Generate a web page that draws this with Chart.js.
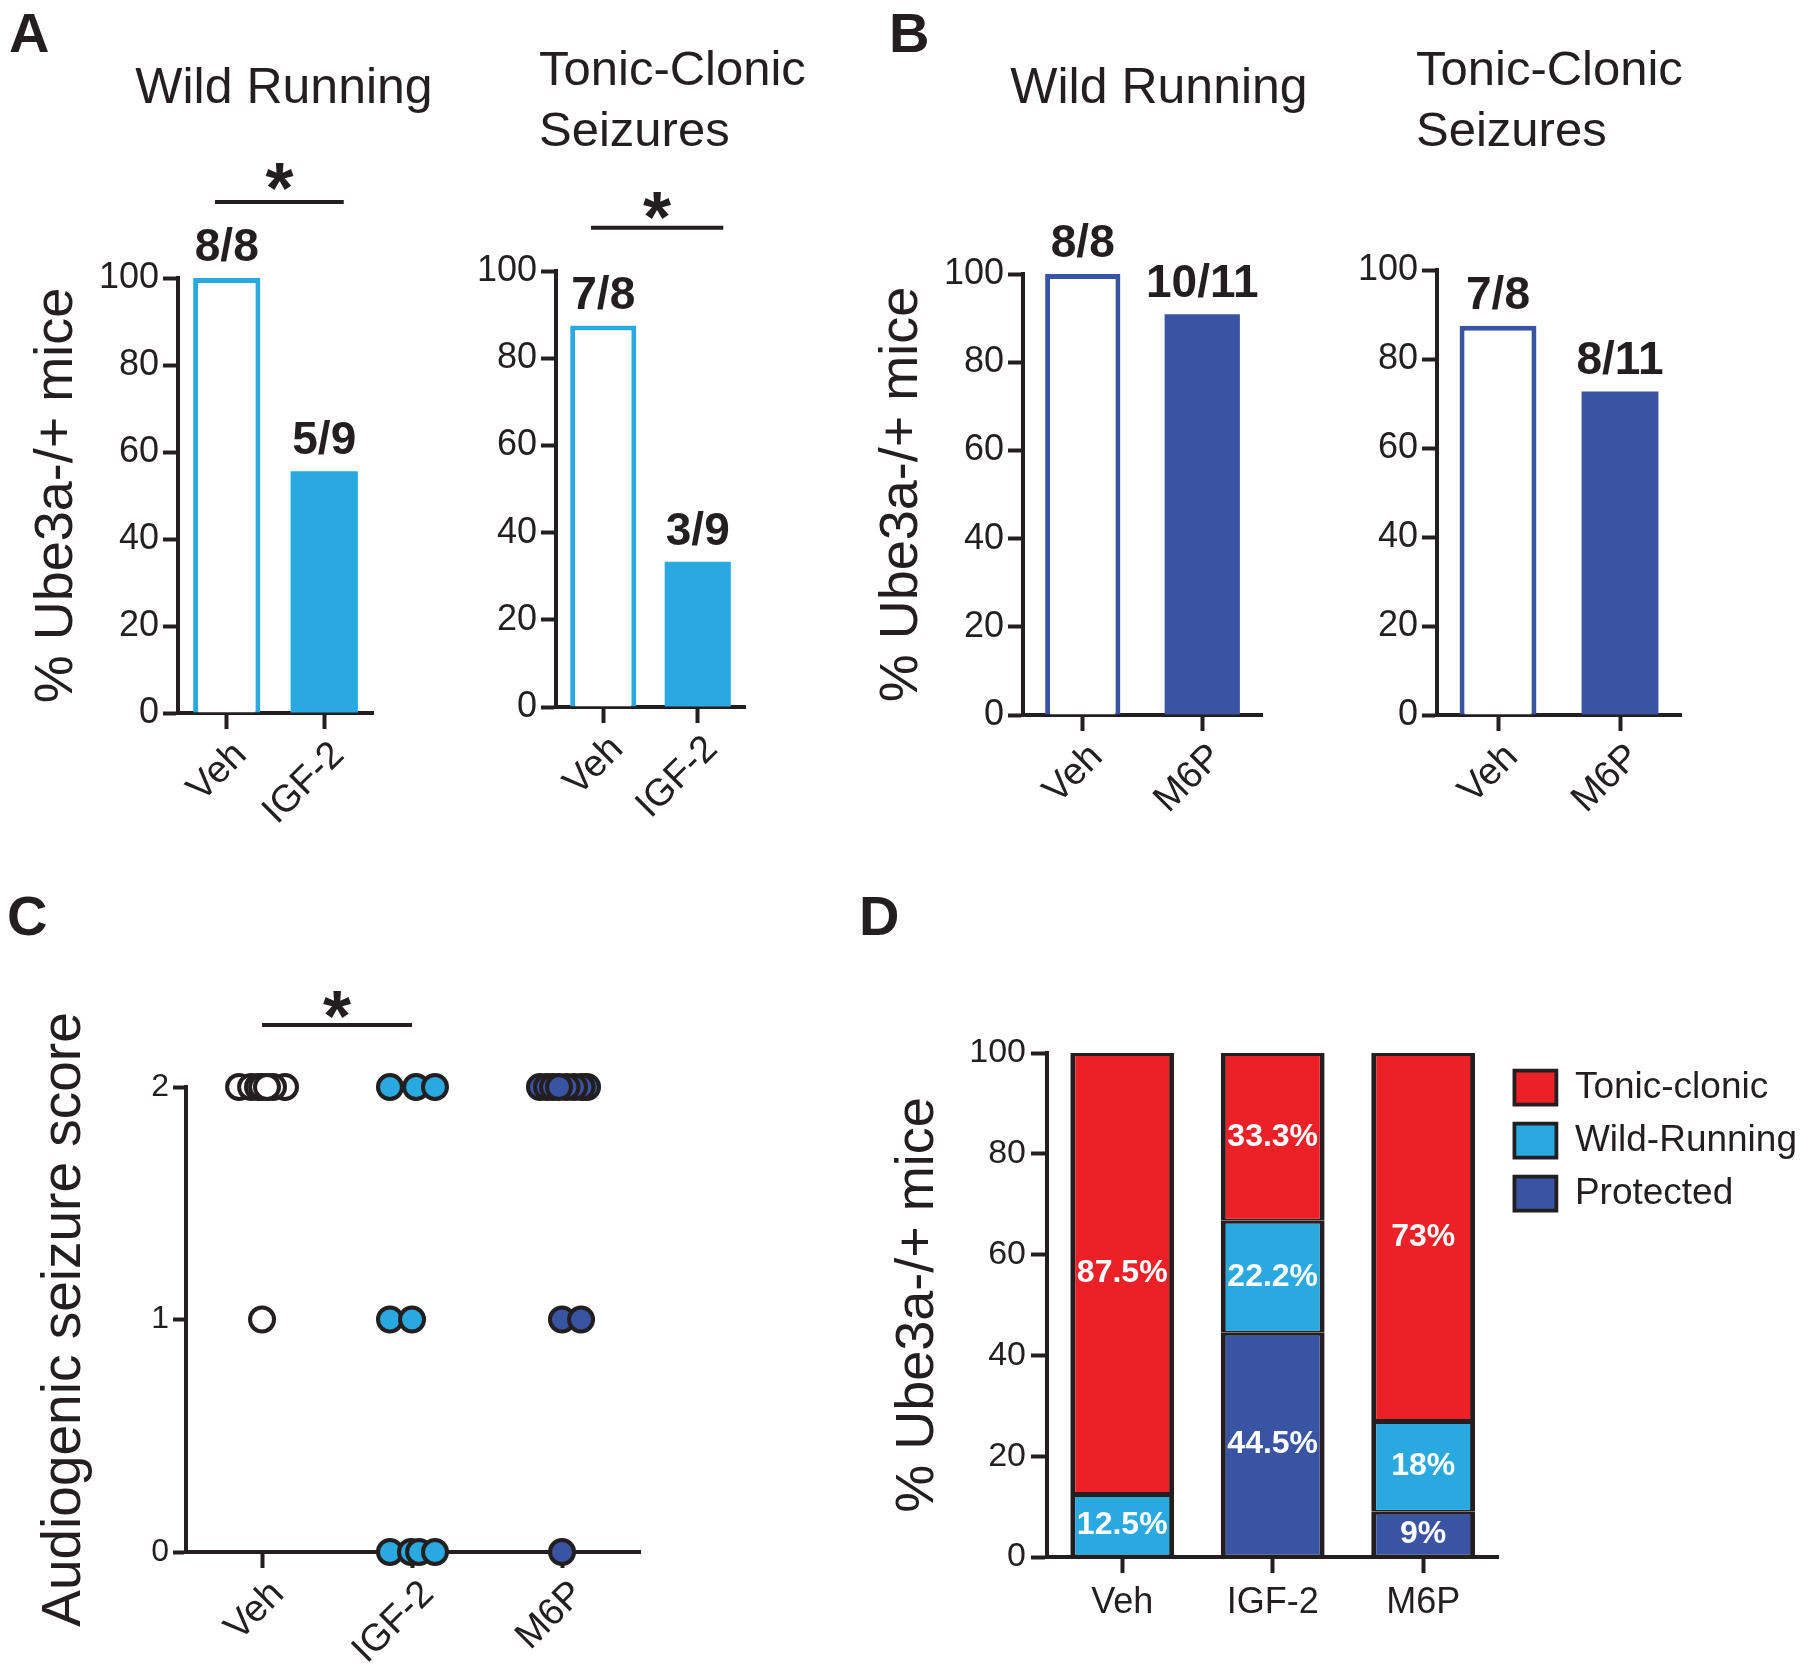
<!DOCTYPE html>
<html>
<head>
<meta charset="utf-8">
<script src="https://cdn.jsdelivr.net/npm/chart.js@4.4.1/dist/chart.umd.min.js"></script>
<style>
  html, body { margin: 0; padding: 0; background: #fff; }
  #page { position: relative; width: 1800px; height: 1679px; overflow: hidden;
          font-family: "Liberation Sans", Arial, sans-serif; color: #231f20; }
  #page canvas { position: absolute; }
  .letter { position: absolute; font-weight: bold; font-size: 56px; line-height: 56px; }
  .title { position: absolute; font-size: 50px; line-height: 50px; white-space: nowrap; text-align: center; width: 300px; }
  .title2 { position: absolute; font-size: 49px; line-height: 61px; white-space: nowrap; }
</style>
</head>
<body>
<div id="page">
  <div class="letter" style="left:9px;top:5px">A</div>
  <div class="letter" style="left:889px;top:5px">B</div>
  <div class="letter" style="left:7px;top:888px">C</div>
  <div class="letter" style="left:859px;top:888px">D</div>

  <div class="title" style="left:134px;top:61px">Wild Running</div>
  <div class="title2" style="left:539px;top:38px">Tonic-Clonic<br>Seizures</div>
  <div class="title" style="left:1009px;top:61px">Wild Running</div>
  <div class="title2" style="left:1416px;top:38px">Tonic-Clonic<br>Seizures</div>

  <canvas id="wrA"></canvas>
  <canvas id="tcA"></canvas>
  <canvas id="wrB"></canvas>
  <canvas id="tcB"></canvas>
  <canvas id="score"></canvas>
  <canvas id="stack"></canvas>
</div>
<script>
// Дані
const CATS_A = ["Veh", "IGF-2"];
const CATS_B = ["Veh", "M6P"];
const PCT_TICKS = [0, 20, 40, 60, 80, 100];

const wildRunA = [100, 55.6];
const wildRunAFrac = ["8/8", "5/9"];
const tonicA = [87.5, 33.3];
const tonicAFrac = ["7/8", "3/9"];

const wildRunB = [100, 90.9];
const wildRunBFrac = ["8/8", "10/11"];
const tonicB = [87.5, 72.7];
const tonicBFrac = ["7/8", "8/11"];

const SCORE_GROUPS = ["Veh", "IGF-2", "M6P"];
const SCORE_TICKS = [0, 1, 2];
const vehScores = [2, 2, 2, 2, 2, 2, 2, 1];
const vehJitter = [-0.153, -0.073, 0.153, 0.073, -0.027, 0, 0.033, 0];
const igfScores = [2, 2, 2, 1, 1, 0, 0, 0, 0];
const igfJitter = [-0.147, 0.027, 0.153, -0.147, 0, -0.147, -0.007, 0.047, 0.153];
const m6pScores = [2, 2, 2, 2, 2, 2, 2, 2, 1, 1, 0];
const m6pJitter = [-0.147, -0.1, -0.06, 0.167, 0.13, 0.08, 0.03, -0.02, 0, 0.127, 0];

const STACK_GROUPS = ["Veh", "IGF-2", "M6P"];
const protectedPct = [null, 44.5, 9];
const wildPct = [12.5, 22.2, 18];
const tonicPct = [87.5, 33.3, 73];

const INK = "#231f20";
const LIGHT = "#29a9e0";
const DARK = "#3a54a4";
const RED = "#ec2027";
const FONT = "'Liberation Sans', Arial, sans-serif";

Chart.defaults.font.family = FONT;
Chart.defaults.color = INK;

// Підписи над стовпчиками, зірочки значущості, відсотки в сегментах
const annotate = {
  id: "annotate",
  afterDraw(chart, args, opts) {
    const { ctx } = chart;
    const x = chart.scales.x, y = chart.scales.y;
    ctx.save();
    ctx.fillStyle = INK;
    ctx.textAlign = "center";
    if (opts.fractions) {
      ctx.font = `bold 46px ${FONT}`;
      ctx.textBaseline = "alphabetic";
      chart.getDatasetMeta(0).data.forEach((bar, i) => ctx.fillText(opts.fractions[i], bar.x, bar.y - 17));
    }
    if (opts.sig) {
      const { from, to, lineAt, starAt } = opts.sig;
      const x1 = x.getPixelForValue(from), x2 = x.getPixelForValue(to);
      const ly = y.getPixelForValue(lineAt);
      ctx.strokeStyle = INK;
      ctx.lineWidth = 4;
      ctx.beginPath();
      ctx.moveTo(x1, ly);
      ctx.lineTo(x2, ly);
      ctx.stroke();
      ctx.font = `bold 72px ${FONT}`;
      ctx.textBaseline = "alphabetic";
      ctx.fillText("*", (x1 + x2) / 2, y.getPixelForValue(starAt) + 0.575 * 72);
    }
    if (opts.segments) {
      ctx.font = `bold 32px ${FONT}`;
      ctx.fillStyle = "#fff";
      ctx.textBaseline = "middle";
      chart.data.datasets.forEach((ds, di) => {
        chart.getDatasetMeta(di).data.forEach((bar, i) => {
          const v = ds.data[i];
          if (v == null) return;
          const c = bar.getCenterPoint();
          ctx.fillText(v + "%", c.x, c.y);
        });
      });
    }
    ctx.restore();
  }
};

function place(id, box) {
  const c = document.getElementById(id);
  c.width = box.w;
  c.height = box.h;
  c.style.left = box.left + "px";
  c.style.top = box.top + "px";
  return c;
}

function pad(box, area, right) {
  return { left: 0, bottom: 0, top: area.top - box.top, right: right ?? (box.left + box.w - area.right) };
}

function axisLines(tickLength = 15) {
  return {
    border: { display: true, color: INK, width: 4 },
    grid: { display: true, drawOnChartArea: false, drawTicks: true, tickLength, tickWidth: 4, tickColor: INK, offset: false }
  };
}

function yTitle(text, size, padTop) {
  return { display: !!text, text, color: INK, font: { size, lineHeight: 1 }, padding: { top: padTop, bottom: 0 } };
}

function pctBars(id, box, area, labels, values, fracs, color, { barPct, title, titlePad, sig } = {}) {
  const canvas = place(id, box);
  return new Chart(canvas, {
    type: "bar",
    data: {
      labels,
      datasets: [{
        data: values,
        backgroundColor: ["#fff", color],
        borderColor: color,
        borderWidth: [5, 0],
        borderSkipped: "start",
        barPercentage: barPct,
        categoryPercentage: 1
      }]
    },
    options: {
      responsive: false,
      animation: false,
      layout: { padding: pad(box, area) },
      plugins: { legend: { display: false }, tooltip: { enabled: false }, annotate: { fractions: fracs, sig } },
      scales: {
        x: {
          ...axisLines(16),
          ticks: { font: { size: 38 }, color: INK, maxRotation: 45, minRotation: 45, padding: 4, labelOffset: 14, autoSkip: false },
          afterFit: s => { s.height = box.top + box.h - area.bottom; }
        },
        y: {
          ...axisLines(15),
          min: 0,
          max: 100,
          afterBuildTicks: s => { s.ticks = PCT_TICKS.map(v => ({ value: v })); },
          ticks: { font: { size: 36 }, color: INK, padding: 4 },
          title: yTitle(title, 54, titlePad),
          afterFit: s => { s.width = area.left - box.left; }
        }
      }
    },
    plugins: [annotate]
  });
}

pctBars("wrA", { left: 0, top: 120, w: 450, h: 730 }, { left: 178, right: 373, top: 278, bottom: 713 },
  CATS_A, wildRunA, wildRunAFrac, LIGHT,
  { barPct: 0.69, title: "% Ube3a-/+ mice", titlePad: 30, sig: { from: -0.12, to: 1.2, lineAt: 117.5, starAt: 124.4 } });

pctBars("tcA", { left: 450, top: 120, w: 390, h: 730 }, { left: 556, right: 745, top: 271, bottom: 707 },
  CATS_A, tonicA, tonicAFrac, LIGHT,
  { barPct: 0.7, sig: { from: -0.13, to: 1.27, lineAt: 109.9, starAt: 116.1 } });

pctBars("wrB", { left: 840, top: 120, w: 440, h: 730 }, { left: 1023, right: 1262, top: 274, bottom: 715 },
  CATS_B, wildRunB, wildRunBFrac, DARK,
  { barPct: 0.63, title: "% Ube3a-/+ mice", titlePad: 35 });

pctBars("tcB", { left: 1290, top: 120, w: 510, h: 730 }, { left: 1437, right: 1681, top: 270, bottom: 715 },
  CATS_B, tonicB, tonicBFrac, DARK,
  { barPct: 0.63 });

// C: точкова діаграма балів
(function () {
  const box = { left: 0, top: 960, w: 720, h: 719 };
  const area = { left: 186, right: 640, top: 1087, bottom: 1552 };
  const canvas = place("score", box);
  const pts = (g, scores, jitter) => scores.map((s, i) => ({ x: g + jitter[i], y: s }));
  const dot = (data, fill) => ({
    data,
    pointRadius: 12,
    pointHoverRadius: 12,
    pointBackgroundColor: fill,
    pointBorderColor: INK,
    pointBorderWidth: 4,
    showLine: false,
    clip: false
  });
  new Chart(canvas, {
    type: "scatter",
    data: {
      datasets: [
        dot(pts(0, vehScores, vehJitter), "#fff"),
        dot(pts(1, igfScores, igfJitter), LIGHT),
        dot(pts(2, m6pScores, m6pJitter), DARK)
      ]
    },
    options: {
      responsive: false,
      animation: false,
      layout: { padding: pad(box, area) },
      plugins: { legend: { display: false }, tooltip: { enabled: false },
        annotate: { sig: { from: 0, to: 1, lineAt: 2.267, starAt: 2.378 } } },
      scales: {
        x: {
          type: "linear",
          ...axisLines(16),
          z: 1,
          min: -0.507,
          max: 2.52,
          afterBuildTicks: s => { s.ticks = SCORE_GROUPS.map((_, i) => ({ value: i })); },
          ticks: { font: { size: 38 }, color: INK, maxRotation: 45, minRotation: 45, padding: 4, labelOffset: 16, autoSkip: false,
                   callback: v => SCORE_GROUPS[v] },
          afterFit: s => { s.height = box.top + box.h - area.bottom; }
        },
        y: {
          ...axisLines(13),
          min: 0,
          max: 2,
          afterBuildTicks: s => { s.ticks = SCORE_TICKS.map(v => ({ value: v })); },
          ticks: { font: { size: 32 }, color: INK, padding: 4 },
          title: yTitle("Audiogenic seizure score", 55, 37),
          afterFit: s => { s.width = area.left - box.left; }
        }
      }
    },
    plugins: [annotate]
  });
})();

// D: складені стовпчики
(function () {
  const box = { left: 850, top: 960, w: 960, h: 719 };
  const area = { left: 1047, right: 1498, top: 1053, bottom: 1557 };
  const canvas = place("stack", box);
  const seg = (label, data, color) => ({
    label, data,
    backgroundColor: color,
    borderColor: INK,
    borderWidth: { top: 3, bottom: 2, left: 5, right: 5 },
    borderSkipped: false,
    inflateAmount: 0,
    barPercentage: 0.69,
    categoryPercentage: 1
  });
  new Chart(canvas, {
    type: "bar",
    data: {
      labels: STACK_GROUPS,
      datasets: [
        seg("Protected", protectedPct, DARK),
        seg("Wild-Running", wildPct, LIGHT),
        seg("Tonic-clonic", tonicPct, RED)
      ]
    },
    options: {
      responsive: false,
      animation: false,
      layout: { padding: pad(box, area, 3) },
      plugins: {
        tooltip: { enabled: false },
        legend: {
          position: "right",
          align: "start",
          reverse: true,
          maxWidth: 340,
          labels: { boxWidth: 42, boxHeight: 34, padding: 16, color: INK, font: { size: 37 } }
        },
        annotate: { segments: true }
      },
      scales: {
        x: {
          stacked: true,
          ...axisLines(16),
          ticks: { font: { size: 36 }, color: INK, maxRotation: 0, padding: 8 },
          afterFit: s => { s.height = box.top + box.h - area.bottom; }
        },
        y: {
          stacked: true,
          ...axisLines(16),
          min: 0,
          max: 100,
          afterBuildTicks: s => { s.ticks = PCT_TICKS.map(v => ({ value: v })); },
          ticks: { font: { size: 34 }, color: INK, padding: 5 },
          title: yTitle("% Ube3a-/+ mice", 54, 41),
          afterFit: s => { s.width = area.left - box.left; }
        }
      }
    },
    plugins: [annotate]
  });
})();
</script>
</body>
</html>
